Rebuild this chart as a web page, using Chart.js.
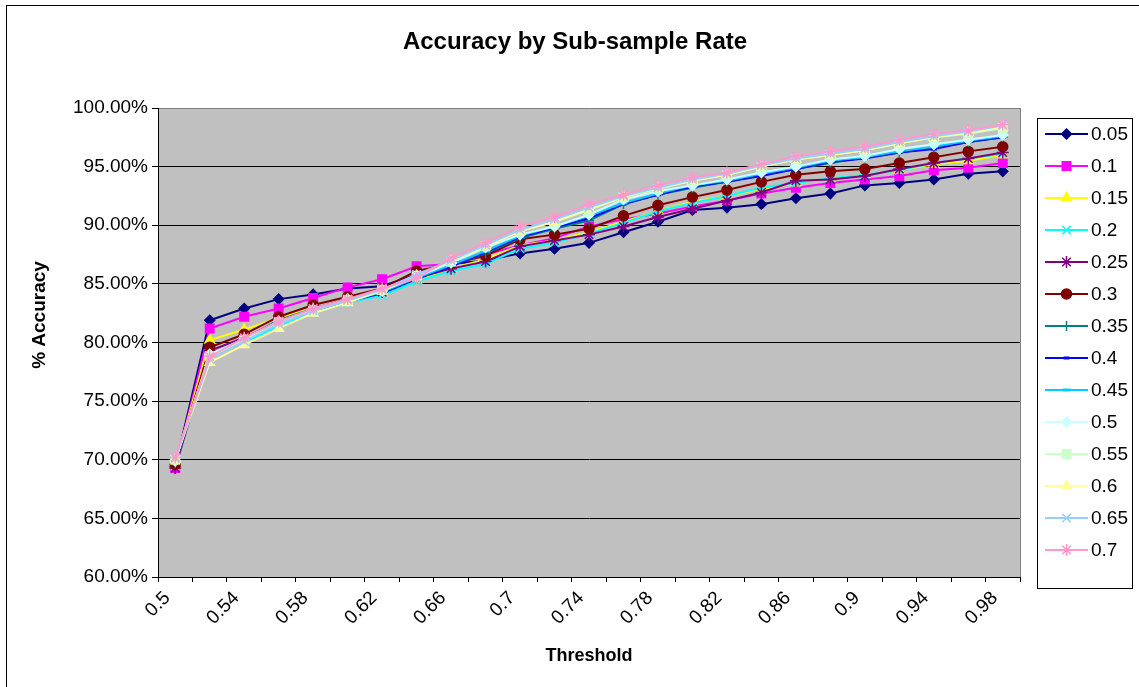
<!DOCTYPE html>
<html>
<head>
<meta charset="utf-8">
<script src="https://cdn.jsdelivr.net/npm/chart.js@4.4.0/dist/chart.umd.min.js"></script>
<style>
html, body { margin: 0; padding: 0; background: #fff; }
#wrap { width: 1139px; height: 687px; position: relative; }
</style>
</head>
<body>
<div id="wrap"><canvas id="chart"></canvas></div>
<script>
// thresholds on the x axis
const thresholds = ['0.5', '0.52', '0.54', '0.56', '0.58', '0.6', '0.62', '0.64', '0.66', '0.68',
    '0.7', '0.72', '0.74', '0.76', '0.78', '0.8', '0.82', '0.84', '0.86', '0.88',
    '0.9', '0.92', '0.94', '0.96', '0.98'];

// sub-sample rates (series names)
const rates = ['0.05', '0.1', '0.15', '0.2', '0.25', '0.3', '0.35', '0.4', '0.45', '0.5', '0.55', '0.6', '0.65', '0.7'];

// accuracy (%) per rate
const acc005 = [69.4, 81.9, 82.9, 83.7, 84.1, 84.6, 84.8, 85.8, 86.7, 87.0, 87.6, 88.0, 88.5, 89.4, 90.3, 91.3, 91.5, 91.8, 92.3, 92.7, 93.4, 93.6, 93.9, 94.4, 94.6];
const acc010 = [69.3, 81.2, 82.2, 82.9, 83.8, 84.7, 85.4, 86.5, 86.7, 87.5, 88.3, 88.9, 89.9, 90.5, 91.0, 91.6, 92.1, 92.7, 93.2, 93.6, 93.9, 94.2, 94.7, 94.9, 95.3];
const acc015 = [69.6, 80.2, 81.1, 82.1, 82.9, 83.6, 84.3, 85.3, 86.3, 87.1, 88.3, 88.7, 89.4, 90.3, 91.2, 92.0, 92.5, 93.1, 93.6, 94.0, 94.3, 94.7, 95.2, 95.5, 96.0];
const acc020 = [69.5, 79.0, 80.0, 81.4, 82.5, 83.4, 84.0, 85.2, 86.1, 86.7, 88.0, 88.5, 89.3, 90.2, 91.2, 91.9, 92.5, 93.2, 93.6, 94.0, 94.3, 94.7, 95.3, 95.7, 96.1];
const acc025 = [69.3, 79.3, 80.4, 81.8, 82.8, 83.7, 84.3, 85.5, 86.3, 86.9, 88.2, 88.7, 89.2, 89.9, 90.7, 91.4, 92.1, 92.8, 93.8, 93.9, 94.2, 94.8, 95.3, 95.7, 96.2];
const acc030 = [69.6, 79.6, 80.7, 82.2, 83.2, 83.9, 84.6, 86.1, 86.7, 87.4, 88.8, 89.2, 89.7, 90.8, 91.7, 92.4, 93.0, 93.7, 94.3, 94.6, 94.8, 95.3, 95.8, 96.3, 96.7];
const acc035 = [69.7, 79.0, 80.3, 81.9, 82.9, 83.7, 84.3, 85.6, 86.6, 87.6, 88.9, 89.7, 90.4, 91.8, 92.6, 93.2, 93.7, 94.3, 94.8, 95.3, 95.8, 96.2, 96.6, 97.1, 97.5];
const acc040 = [69.8, 78.9, 80.2, 81.7, 82.7, 83.5, 84.2, 85.4, 86.5, 87.7, 89.0, 89.8, 90.6, 91.8, 92.6, 93.3, 93.7, 94.2, 94.8, 95.4, 95.7, 96.2, 96.5, 97.1, 97.5];
const acc045 = [69.8, 79.0, 80.2, 81.7, 82.8, 83.5, 84.3, 85.5, 86.6, 87.8, 89.1, 89.9, 90.8, 91.9, 92.7, 93.4, 93.8, 94.4, 94.9, 95.5, 95.8, 96.3, 96.7, 97.2, 97.6];
const acc050 = [69.9, 79.0, 80.3, 81.8, 82.8, 83.7, 84.4, 85.6, 86.8, 88.1, 89.2, 89.9, 90.9, 92.2, 92.9, 93.4, 93.9, 94.5, 95.0, 95.6, 95.9, 96.5, 96.9, 97.3, 97.7];
const acc055 = [70.0, 78.8, 80.2, 81.7, 82.7, 83.6, 84.5, 85.7, 86.9, 88.2, 89.5, 90.3, 91.3, 92.4, 93.1, 93.8, 94.3, 95.0, 95.6, 96.0, 96.4, 97.0, 97.5, 97.8, 98.3];
const acc060 = [70.0, 78.3, 79.8, 81.2, 82.5, 83.4, 84.4, 85.7, 87.0, 88.2, 89.5, 90.3, 91.4, 92.4, 93.2, 93.8, 94.3, 95.0, 95.6, 96.0, 96.4, 97.0, 97.5, 97.9, 98.4];
const acc065 = [70.1, 78.6, 80.1, 81.6, 82.7, 83.6, 84.5, 85.8, 87.0, 88.3, 89.6, 90.5, 91.5, 92.5, 93.2, 93.9, 94.4, 95.1, 95.7, 96.1, 96.5, 97.1, 97.6, 98.0, 98.5];
const acc070 = [70.2, 78.8, 80.4, 81.8, 82.9, 83.7, 84.6, 85.5, 87.2, 88.5, 89.9, 90.7, 91.8, 92.6, 93.4, 94.1, 94.5, 95.2, 95.9, 96.3, 96.7, 97.3, 97.8, 98.1, 98.6];

// y axis range
const yMin = 60, yMax = 100, yStep = 5;

const seriesValues = [acc005, acc010, acc015, acc020, acc025, acc030, acc035,
    acc040, acc045, acc050, acc055, acc060, acc065, acc070];

// excel-ish line colors and markers
const colors = ['#000080', '#FF00FF', '#FFFF00', '#00FFFF', '#800080', '#800000', '#008080',
    '#0000FF', '#00CCFF', '#CCFFFF', '#CCFFCC', '#FFFF99', '#99CCFF', '#FF99CC'];
const markers = ['rectRot', 'rect', 'triangle', 'crossRot', 'star', 'circle', 'cross',
    'line', 'line', 'rectRot', 'rect', 'triangle', 'crossRot', 'star'];
const markerSize = { rectRot: 5, rect: 6, triangle: 5.5, crossRot: 6, star: 6, circle: 5, cross: 5, line: 3 };

const FONT = "'Liberation Sans', Arial, sans-serif";

const datasets = rates.map((r, i) => ({
    label: r,
    data: seriesValues[i],
    borderColor: colors[i],
    backgroundColor: colors[i],
    pointBackgroundColor: colors[i],
    pointBorderColor: colors[i],
    pointStyle: markers[i],
    pointRadius: i === 8 ? 4 : markerSize[markers[i]],
    pointBorderWidth: markers[i] === 'line' ? 3 : 1.5,
    borderWidth: 2,
    tension: 0,
    order: rates.length - i
}));

// gray plot area + outer frame
const backdrop = {
    id: 'backdrop',
    beforeDraw(chart) {
        const { ctx, chartArea: a } = chart;
        ctx.save();
        ctx.fillStyle = '#fff';
        ctx.fillRect(0, 0, chart.width, chart.height);
        ctx.fillStyle = '#C0C0C0';
        ctx.fillRect(a.left, a.top, a.right - a.left, a.bottom - a.top);
        ctx.strokeStyle = '#000';
        ctx.lineWidth = 1;
        ctx.strokeRect(6.5, 5.5, chart.width + 20, chart.height + 20);
        ctx.restore();
    }
};

// right border of plot, titles, boxed legend
const extras = {
    id: 'extras',
    afterDraw(chart) {
        const { ctx, chartArea: a } = chart;
        ctx.save();
        ctx.strokeStyle = '#808080';
        ctx.lineWidth = 1;
        ctx.beginPath();
        ctx.moveTo(a.right + 0.5, a.top);
        ctx.lineTo(a.right + 0.5, a.bottom);
        ctx.stroke();

        ctx.fillStyle = '#000';
        ctx.font = 'bold 24px ' + FONT;
        ctx.textAlign = 'center';
        ctx.textBaseline = 'middle';
        ctx.fillText('Accuracy by Sub-sample Rate', 575, 42);

        // y axis title
        ctx.save();
        ctx.translate(40, 315);
        ctx.rotate(-Math.PI / 2);
        ctx.font = 'bold 19px ' + FONT;
        ctx.fillText('% Accuracy', 0, 0);
        ctx.restore();

        // legend
        const lx = 1037, ly = 118, lw = 95, lh = 470;
        ctx.strokeStyle = '#000';
        ctx.lineWidth = 1;
        ctx.strokeRect(lx + 0.5, ly + 0.5, lw, lh);
        chart.data.datasets.forEach((ds, i) => {
            const y = 134 + i * 32;
            ctx.strokeStyle = ds.borderColor;
            ctx.lineWidth = 2;
            ctx.beginPath();
            ctx.moveTo(1045, y);
            ctx.lineTo(1088, y);
            ctx.stroke();
            ctx.fillStyle = ds.pointBackgroundColor;
            ctx.strokeStyle = ds.pointBorderColor;
            ctx.lineWidth = ds.pointBorderWidth;
            Chart.helpers.drawPoint(ctx, {
                pointStyle: ds.pointStyle, radius: ds.pointRadius, rotation: 0, borderWidth: ds.pointBorderWidth
            }, 1066.5, y);
            ctx.fillStyle = '#000';
            ctx.font = '19px ' + FONT;
            ctx.textAlign = 'left';
            ctx.fillText(ds.label, 1091, y + 1);
        });
        ctx.restore();
    }
};

new Chart(document.getElementById('chart'), {
    type: 'line',
    data: { labels: thresholds, datasets },
    options: {
        responsive: true,
        maintainAspectRatio: false,
        animation: false,
        devicePixelRatio: 1,
        layout: { padding: { top: 108, right: 119, bottom: 16, left: 25 } },
        plugins: {
            legend: { display: false },
            title: { display: false },
            tooltip: { enabled: false }
        },
        scales: {
            x: {
                offset: true,
                grid: { offset: true, drawOnChartArea: false, drawTicks: true, tickLength: 5, color: '#000' },
                border: { color: '#000', width: 1 },
                ticks: {
                    autoSkip: false,
                    maxRotation: 45,
                    minRotation: 45,
                    padding: 5,
                    labelOffset: -8,
                    color: '#000',
                    font: { family: FONT, size: 19 },
                    callback: function (v, i) { return i % 2 === 0 ? this.getLabelForValue(v) : ''; }
                },
                title: { display: true, text: 'Threshold', color: '#000', font: { family: FONT, size: 18, weight: 'bold' } },
                afterFit(scale) { scale.height = 94; }
            },
            y: {
                min: yMin,
                max: yMax,
                grid: {
                    color: ctx => ctx.tick && ctx.tick.value === yMax ? '#808080' : '#000',
                    tickColor: '#000',
                    tickLength: 6
                },
                border: { color: '#000', width: 1 },
                ticks: {
                    stepSize: yStep,
                    padding: 4,
                    color: '#000',
                    font: { family: FONT, size: 19 },
                    callback: v => v.toFixed(2) + '%'
                },
                afterFit(scale) { scale.width = 133; }
            }
        }
    },
    plugins: [backdrop, extras]
});
</script>
</body>
</html>
